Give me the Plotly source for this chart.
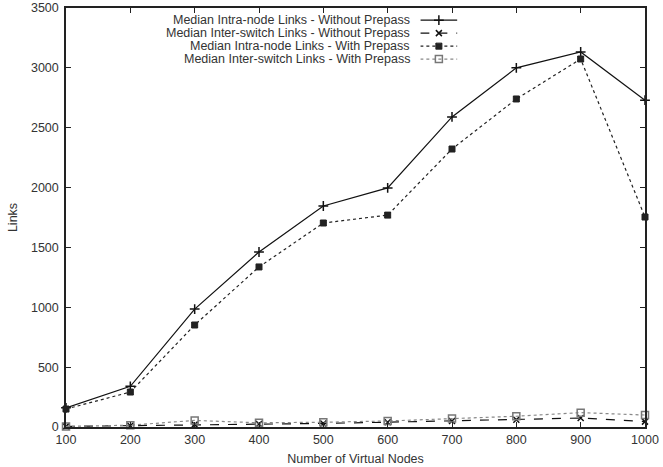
import plotly.graph_objects as go

nodes = [100, 200, 300, 400, 500, 600, 700, 800, 900, 1000]
intra_without = [160, 340, 985, 1462, 1846, 1997, 2590, 3000, 3133, 2730]
inter_without = [5, 10, 20, 25, 30, 40, 50, 60, 75, 45]
intra_with = [150, 292, 852, 1337, 1704, 1770, 2322, 2740, 3074, 1754]
inter_with = [5, 15, 55, 35, 40, 50, 70, 90, 120, 100]

names = [
    "Median Intra-node Links - Without Prepass",
    "Median Inter-switch Links - Without Prepass",
    "Median Intra-node Links - With Prepass",
    "Median Inter-switch Links - With Prepass",
]
series = [intra_without, inter_without, intra_with, inter_with]
styles = [
    dict(color="#111111", dash="solid", symbol="cross-thin", msize=7, mcolor="#111111", mw=1.5),
    dict(color="#111111", dash="dash", symbol="x-thin", msize=6, mcolor="#111111", mw=1.5),
    dict(color="#222222", dash="dot", symbol="square-x", msize=6, mcolor="#222222", mw=1),
    dict(color="#888888", dash="dot", symbol="square-open", msize=7, mcolor="#777777", mw=1.5),
]

FONT = "Liberation Sans, Arial, sans-serif"
FS = 12.5

fig = go.Figure()
for name, ys, st in zip(names, series, styles):
    fig.add_trace(go.Scatter(
        x=nodes, y=ys, mode="lines+markers", name=name, showlegend=False,
        line=dict(color=st["color"], dash=st["dash"], width=1.2),
        marker=dict(symbol=st["symbol"], size=st["msize"], color=st["mcolor"],
                    line=dict(color=st["mcolor"], width=st["mw"])),
        cliponaxis=False,
    ))

# custom legend (text right-aligned, sample at right) on a hidden overlay axis
leg_y = [0.971, 0.940, 0.909, 0.878]
for name, ly, st in zip(names, leg_y, styles):
    fig.add_trace(go.Scatter(
        x=[0.0, 0.5, 1.0], y=[ly, ly, ly], xaxis="x2", yaxis="y2",
        mode="lines", showlegend=False, hoverinfo="skip",
        line=dict(color=st["color"], dash=st["dash"], width=1.2),
    ))
    fig.add_trace(go.Scatter(
        x=[0.5], y=[ly], xaxis="x2", yaxis="y2",
        mode="markers", showlegend=False, hoverinfo="skip",
        marker=dict(symbol=st["symbol"], size=st["msize"], color=st["mcolor"],
                    line=dict(color=st["mcolor"], width=st["mw"])),
    ))
    fig.add_annotation(
        x=0.598, y=ly, xref="paper", yref="paper", text=name,
        showarrow=False, xanchor="right", yanchor="middle",
        font=dict(family=FONT, size=FS, color="#333333"),
    )

axis_common = dict(
    showgrid=False, zeroline=False, showline=True, linecolor="#222222", linewidth=1.5,
    mirror="allticks", ticks="inside", ticklen=5, tickcolor="#222222", tickwidth=1,
    tickfont=dict(family=FONT, size=FS, color="#333333"), automargin=False,
)

fig.update_layout(
    width=663, height=467,
    margin=dict(l=66, r=18, t=8, b=40, autoexpand=False),
    paper_bgcolor="white", plot_bgcolor="rgba(0,0,0,0)",
    xaxis=dict(range=[100, 1000], tickvals=nodes, **axis_common,
               title=dict(text="Number of Virtual Nodes", standoff=8,
                          font=dict(family=FONT, size=FS, color="#333333"))),
    yaxis=dict(range=[0, 3500], tickvals=[0, 500, 1000, 1500, 2000, 2500, 3000, 3500], **axis_common,
               ticklabelstandoff=3,
               title=dict(text="Links", standoff=11,
                          font=dict(family=FONT, size=FS, color="#333333"))),
    xaxis2=dict(domain=[0.612, 0.676], range=[0, 1], visible=False, anchor="y2"),
    yaxis2=dict(domain=[0, 1], range=[0, 1], visible=False, anchor="x2"),
    showlegend=False,
)

fig.write_html("out.html")
